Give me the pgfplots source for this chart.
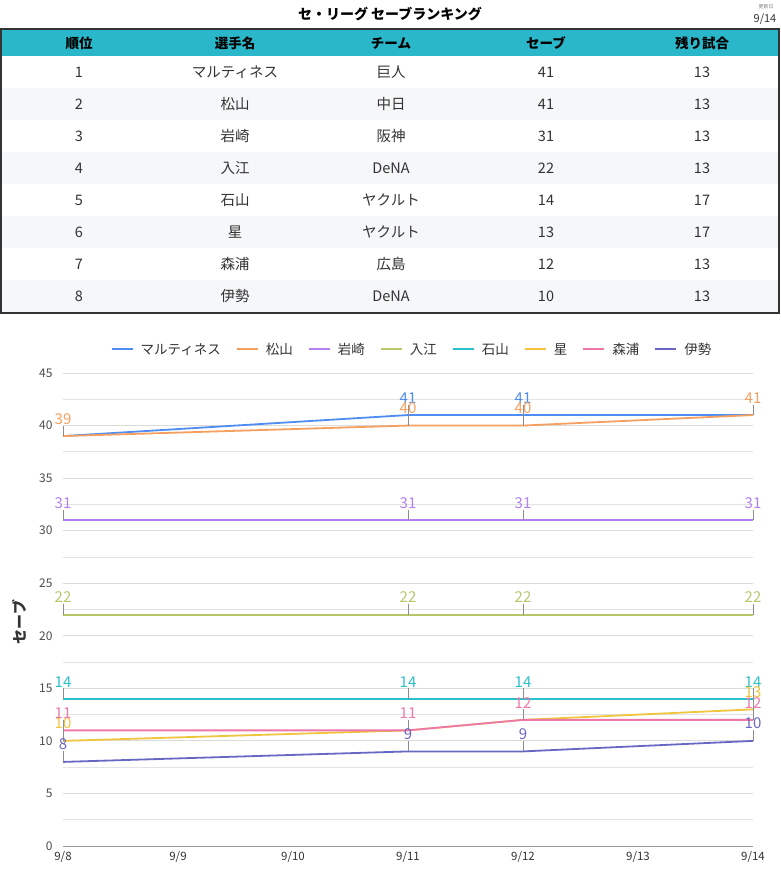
\documentclass[border=0pt]{standalone}
\usepackage{pgfplots}
\pgfplotsset{compat=1.18}
\usepackage{fontspec}
\setmainfont{Noto Sans CJK JP}
\definecolor{cM}{HTML}{4E8EF2}
\definecolor{cMa}{HTML}{F5A060}
\definecolor{cIw}{HTML}{B382F0}
\definecolor{cIr}{HTML}{B6C86A}
\definecolor{cIs}{HTML}{2CBFCC}
\definecolor{cHo}{HTML}{F0C43C}
\definecolor{cMo}{HTML}{EE77AA}
\definecolor{cIse}{HTML}{6868C4}
\definecolor{hdr}{HTML}{2AB7CA}
\definecolor{rowg}{HTML}{F6F7F9}
\definecolor{txt}{HTML}{333333}
\begin{document}
\begin{tikzpicture}
\path[use as bounding box] (0pt,0pt) rectangle (780pt,-878pt);
% title
\node[font=\fontsize{14}{16}\selectfont\bfseries] at (390pt,-14pt) {セ・リーグ セーブランキング};
\node[font=\fontsize{5}{6}\selectfont, text=gray] at (766pt,-7pt) {更新日};
\node[font=\fontsize{11}{12}\selectfont, text=txt] at (765pt,-19pt) {9/14};
% table
\fill[hdr] (1pt,-29pt) rectangle (779pt,-56pt);
\foreach \k in {2,4,6,8} {
  \fill[rowg] (1pt,{-56pt-32pt*(\k-1)}) rectangle (779pt,{-56pt-32pt*\k});
}
\draw[txt, line width=1.8pt] (1pt,-29pt) rectangle (779pt,-313pt);
\foreach \x/\t in {79/順位,235/選手名,391/チーム,546/セーブ,702/残り試合} {
  \node[font=\fontsize{13.5}{15}\selectfont\bfseries] at (\x pt,-43pt) {\t};
}
\foreach \k/\a/\b/\c/\d/\e in {1/1/マルティネス/巨人/41/13, 2/2/松山/中日/41/13, 3/3/岩崎/阪神/31/13, 4/4/入江/DeNA/22/13, 5/5/石山/ヤクルト/14/17, 6/6/星/ヤクルト/13/17, 7/7/森浦/広島/12/13, 8/8/伊勢/DeNA/10/13} {
  \begin{scope}[every node/.style={font=\fontsize{14.5}{16}\selectfont, text=txt}]
  \node at (79pt,{-72pt-32pt*(\k-1)}) {\a};
  \node at (235pt,{-72pt-32pt*(\k-1)}) {\b};
  \node at (391pt,{-72pt-32pt*(\k-1)}) {\c};
  \node at (546pt,{-72pt-32pt*(\k-1)}) {\d};
  \node at (702pt,{-72pt-32pt*(\k-1)}) {\e};
  \end{scope}
}
% y axis title
\node[rotate=90, font=\fontsize{15}{16}\selectfont\bfseries, text=txt] at (19pt,-622pt) {セーブ};
% chart
\begin{axis}[
    at={(63pt,-846pt)}, anchor=origin,
    scale only axis, width=690pt, height=473pt,
    xmin=0, xmax=6, ymin=0, ymax=45,
    xtick={0,1,...,6},
    xticklabels={9/8,9/9,9/10,9/11,9/12,9/13,9/14},
    ytick={0,5,...,45},
    minor ytick={2.5,7.5,...,42.5},
    ymajorgrids, yminorgrids,
    major grid style={color=black!14, line width=0.8pt},
    minor grid style={color=black!11, line width=0.8pt},
    major tick length=0pt, minor tick length=0pt,
    axis x line*=bottom, axis y line*=left,
    x axis line style={color=black!40, line width=0.8pt},
    y axis line style={draw=none},
    /pgf/number format/assume math mode=true,
    yticklabel style={font=\fontsize{12}{13}\selectfont, text=black!70, xshift=-7pt},
    xticklabel style={font=\fontsize{11.5}{12}\selectfont, text=black!80, yshift=-2pt},
    clip=false,
    legend columns=-1,
    legend style={draw=none, fill=none, at={(0.5,1)}, anchor=south, yshift=13pt, xshift=4pt,
      font=\fontsize{13.5}{14}\selectfont, text=black!80,
      /tikz/every odd column/.append style={column sep=5pt},
      /tikz/every even column/.append style={column sep=13pt}},
    legend image code/.code={\draw[#1, line width=2pt] (0pt,0pt) -- (21pt,0pt);},
    every axis plot/.append style={line width=1.8pt},
    lbl/.style={only marks, mark=none, color=black!45, line width=0.7pt, forget plot,
      nodes near coords, point meta=explicit symbolic,
      nodes near coords style={text=#1, anchor=south, yshift=11pt, font=\fontsize{15}{16}\selectfont, inner sep=0.5pt},
      error bars/.cd, y dir=plus, y fixed=1, error mark=none,
      error bar style={line width=0.7pt, color=black!45}},
  ]
  \addplot[cM] coordinates {(0,39) (3,41) (4,41) (6,41)};
  \addplot[cMa] coordinates {(0,39) (3,40) (4,40) (6,41)};
  \addplot[cIw] coordinates {(0,31) (3,31) (4,31) (6,31)};
  \addplot[cIr] coordinates {(0,22) (3,22) (4,22) (6,22)};
  \addplot[cIs] coordinates {(0,14) (3,14) (4,14) (6,14)};
  \addplot[cHo] coordinates {(0,10) (3,11) (4,12) (6,13)};
  \addplot[cMo] coordinates {(0,11) (3,11) (4,12) (6,12)};
  \addplot[cIse] coordinates {(0,8) (3,9) (4,9) (6,10)};
  \legend{マルティネス, 松山, 岩崎, 入江, 石山, 星, 森浦, 伊勢}
  % data labels
  \addplot[lbl=cM] coordinates {(3,41)[41] (4,41)[41]};
  \addplot[lbl=cMa] coordinates {(0,39)[39] (3,40)[40] (4,40)[40] (6,41)[41]};
  \addplot[lbl=cIw] coordinates {(0,31)[31] (3,31)[31] (4,31)[31] (6,31)[31]};
  \addplot[lbl=cIr] coordinates {(0,22)[22] (3,22)[22] (4,22)[22] (6,22)[22]};
  \addplot[lbl=cIs] coordinates {(0,14)[14] (3,14)[14] (4,14)[14] (6,14)[14]};
  \addplot[lbl=cHo] coordinates {(0,10)[10] (6,13)[13]};
  \addplot[lbl=cMo] coordinates {(0,11)[11] (3,11)[11] (4,12)[12] (6,12)[12]};
  \addplot[lbl=cIse] coordinates {(0,8)[8] (3,9)[9] (4,9)[9] (6,10)[10]};
\end{axis}
\end{tikzpicture}
\end{document}
